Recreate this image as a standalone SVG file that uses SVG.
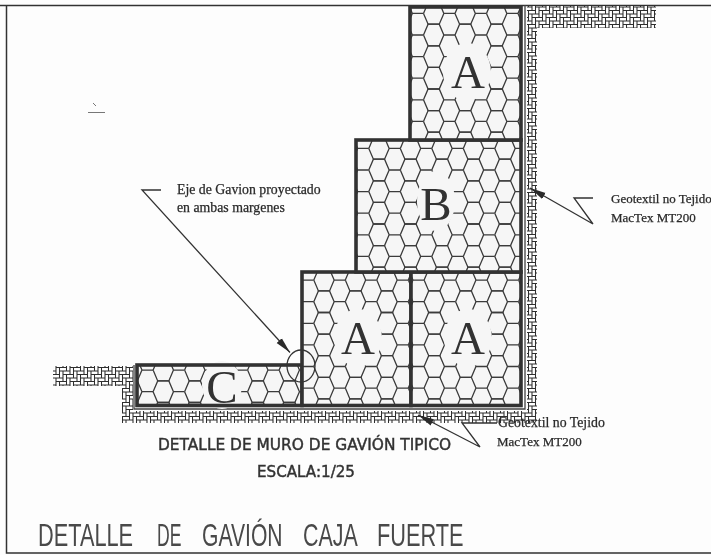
<svg xmlns="http://www.w3.org/2000/svg" xmlns:xlink="http://www.w3.org/1999/xlink" width="711" height="555" viewBox="0 0 711 555">
<style>
.fill{fill:#f6f6f6}
.box{fill:none;stroke:#333;stroke-width:3.6;stroke-linejoin:miter}
.halo{fill:#f6f6f6}
.big{font-family:"Liberation Serif",serif;font-size:47px;fill:#333;text-anchor:middle}
.note{font-family:"Liberation Serif",serif;font-size:13px;fill:#2a2a2a;stroke:#2a2a2a;stroke-width:.25}
.note2{font-size:13.8px}
.head{font-family:"DejaVu Sans",sans-serif;font-size:15.5px;fill:#333;stroke:#333;stroke-width:.45}
.title{font-family:"Liberation Sans",sans-serif;font-size:32px;fill:#4a4a4a}
.ln{fill:none;stroke:#333;stroke-width:1.3}
.ah{fill:#2a2a2a;stroke:none}
.frame{fill:none;stroke:#333;stroke-width:1.5}
</style>
<defs>
<filter id="scan" x="0" y="0" width="100%" height="100%"><feGaussianBlur stdDeviation="0.4"/></filter>
<path id="t" d="M0 10.800L4.600 0H15.750L20.350 10.800L15.750 21.600H4.600L0 10.800M20.350 10.800H31.500" fill="none" stroke="#3a3a3a" stroke-width="1.3"/>
<g id="row"><use href="#t" x="-31.500"/><use href="#t"/><use href="#t" x="31.500"/><use href="#t" x="63"/><use href="#t" x="94.500"/><use href="#t" x="126"/><use href="#t" x="157.500"/></g>
<g id="grid"><use href="#row" y="-21.600"/><use href="#row"/><use href="#row" y="21.600"/><use href="#row" y="43.200"/><use href="#row" y="64.800"/><use href="#row" y="86.400"/><use href="#row" y="108"/><use href="#row" y="129.600"/></g>
<clipPath id="cC"><rect x="137" y="365" width="165" height="40.500"/></clipPath>
<clipPath id="cA2"><rect x="302" y="272" width="109" height="133.500"/></clipPath>
<clipPath id="cA3"><rect x="411" y="272" width="110" height="133.500"/></clipPath>
<clipPath id="cB"><rect x="356" y="140" width="165" height="132"/></clipPath>
<clipPath id="cA1"><rect x="410" y="7" width="111" height="133"/></clipPath>
<pattern id="soil" width="14" height="14" patternUnits="userSpaceOnUse">
<rect width="14" height="14" fill="#fff"/>
<path transform="scale(3.5)" fill="none" stroke="#2e2e2e" stroke-width=".3" d="M2 -2h2v1h-2zm0 1h1v2h-1zM3 -1h2v1h-2zm0 1h1v2h-1zM0 0h2v1h-2zm0 1h1v2h-1zM1 1h2v1h-2zm0 1h1v2h-1zM2 2h2v1h-2zm0 1h1v2h-1zM3 3h2v1h-2zm0 1h1v2h-1zM-1 3h2v1h-2zm0 1h1v2h-1z"/>
</pattern>
<marker id="arrow" markerUnits="userSpaceOnUse" markerWidth="18" markerHeight="9" refX="16" refY="4.500" orient="auto"><path class="ah" d="M0 1L16 4.500L0 8Z"/></marker>
</defs>
<rect width="711" height="555" fill="#fdfdfd"/>
<g filter="url(#scan)">
<g id="frame"><path class="frame" d="M0 5.500H711M6.500 5V553H711"/></g>
<g id="soil-strata">
<rect x="527" y="6" width="129" height="22" fill="url(#soil)"/>
<rect x="527" y="6" width="10" height="408" fill="url(#soil)"/>
<rect x="53" y="366" width="80" height="20" fill="url(#soil)"/>
<rect x="122" y="386" width="11" height="37" fill="url(#soil)"/>
<rect x="122" y="411" width="415" height="12" fill="url(#soil)"/>
</g>
<g id="geotextile"><path d="M134 365V409H525V5" fill="none" stroke="#444" stroke-width="1.3"/></g>
<g id="gabion-C">
<rect class="fill" x="137" y="365" width="165" height="40.500"/>
<g clip-path="url(#cC)"><use href="#grid" x="153.100" y="380.900"/></g>
<ellipse class="halo" cx="222" cy="385" rx="20" ry="24"/>
<rect class="box" x="137" y="365" width="165" height="40.500"/>
<text class="big" x="222" y="402.500">C</text>
</g>
<g id="gabion-A-lower-left">
<rect class="fill" x="302" y="272" width="109" height="133.500"/>
<g clip-path="url(#cA2)"><use href="#grid" x="313.800" y="290.900"/></g>
<ellipse class="halo" cx="358" cy="338" rx="24" ry="29"/>
<rect class="box" x="302" y="272" width="109" height="133.500"/>
<text class="big" x="358" y="354">A</text>
</g>
<g id="gabion-A-lower-right">
<rect class="fill" x="411" y="272" width="110" height="133.500"/>
<g clip-path="url(#cA3)"><use href="#grid" x="424.100" y="290.900"/></g>
<ellipse class="halo" cx="468" cy="338" rx="24" ry="29"/>
<rect class="box" x="411" y="272" width="110" height="133.500"/>
<text class="big" x="468" y="354">A</text>
</g>
<g id="gabion-B">
<rect class="fill" x="356" y="140" width="165" height="132"/>
<g clip-path="url(#cB)"><use href="#grid" x="368.800" y="159.200"/></g>
<ellipse class="halo" cx="436" cy="201" rx="19" ry="30"/>
<rect class="box" x="356" y="140" width="165" height="132"/>
<text class="big" x="436" y="220">B</text>
</g>
<g id="gabion-A-top">
<rect class="fill" x="410" y="7" width="111" height="133"/>
<g clip-path="url(#cA1)"><use href="#grid" x="423.500" y="24.200"/></g>
<ellipse class="halo" cx="467" cy="72" rx="24" ry="29"/>
<rect class="box" x="410" y="7" width="111" height="133"/>
<text class="big" x="468" y="88">A</text>
</g>
<g id="connectors">
<path class="ln" d="M161 190H142L290 352.500" marker-end="url(#arrow)"/>
<ellipse class="ln" cx="301" cy="366" rx="14" ry="16"/>
<path class="ln" d="M593 198H574L593 224L530 188" marker-end="url(#arrow)"/>
<path class="ln" d="M497 423H462L480 447L418 415" marker-end="url(#arrow)"/>
<path d="M93 103l3 3M88 112.500H105" fill="none" stroke="#777" stroke-width="1"/>
</g>
<g id="labels">
<text class="note note2" x="177" y="194">Eje de Gavion proyectado</text>
<text class="note note2" x="177" y="212">en ambas margenes</text>
<text class="note" x="611" y="203">Geotextil no Tejido</text>
<text class="note" x="611" y="222">MacTex MT200</text>
<text class="note note2" x="498" y="427">Geotextil no Tejido</text>
<text class="note" x="497" y="446">MacTex MT200</text>
<text class="head" x="158" y="450" textLength="293" lengthAdjust="spacingAndGlyphs">DETALLE DE MURO DE GAVIÓN TIPICO</text>
<text class="head" x="257" y="477" textLength="98" lengthAdjust="spacingAndGlyphs">ESCALA:1/25</text>
<text class="title" transform="translate(38 546) scale(.68 1)">DETALLE</text>
<text class="title" transform="translate(157 546) scale(.55 1)">DE</text>
<text class="title" transform="translate(202 546) scale(.66 1)">GAVIÓN</text>
<text class="title" transform="translate(303 546) scale(.67 1)">CAJA</text>
<text class="title" transform="translate(377 546) scale(.68 1)">FUERTE</text>
</g>
</g>
</svg>
